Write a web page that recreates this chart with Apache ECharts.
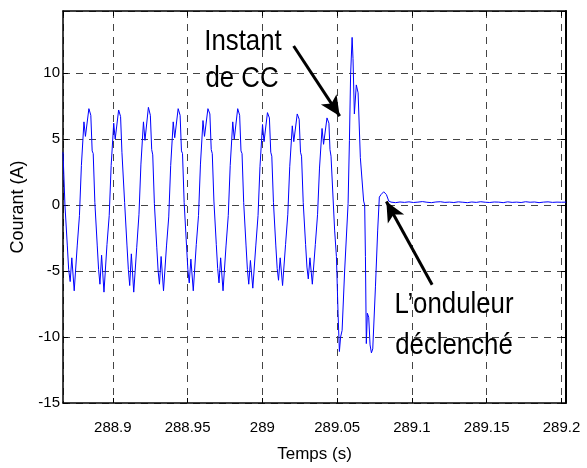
<!DOCTYPE html>
<html>
<head>
<meta charset="utf-8">
<script src="https://cdn.jsdelivr.net/npm/echarts@6/dist/echarts.min.js"></script>
<style>html,body{margin:0;padding:0;background:#fff;}#chart{width:587px;height:468px;}</style>
</head>
<body>
<div id="chart"></div>
<script>
// Time samples (s)
const timeS = [
  288.8667, 288.8680, 288.8696, 288.8705,
  288.8715, 288.8726, 288.8742, 288.8762, 288.8777, 288.8790, 288.8807, 288.8817, 288.8840, 288.8853, 288.8862, 288.8869, 288.8880, 288.8896, 288.8905,
  288.8914, 288.8925, 288.8941, 288.8961, 288.8976, 288.8989, 288.9006, 288.9016, 288.9039, 288.9052, 288.9061, 288.9068, 288.9079, 288.9095, 288.9104,
  288.9113, 288.9124, 288.9140, 288.9160, 288.9175, 288.9188, 288.9205, 288.9215, 288.9238, 288.9251, 288.9260, 288.9267, 288.9278, 288.9294, 288.9303,
  288.9312, 288.9323, 288.9339, 288.9359, 288.9374, 288.9387, 288.9404, 288.9414, 288.9437, 288.9450, 288.9459, 288.9466, 288.9477, 288.9493, 288.9502,
  288.9511, 288.9522, 288.9538, 288.9558, 288.9573, 288.9586, 288.9603, 288.9613, 288.9636, 288.9649, 288.9658, 288.9665, 288.9676, 288.9692, 288.9701,
  288.9710, 288.9721, 288.9737, 288.9757, 288.9772, 288.9785, 288.9802, 288.9812, 288.9835, 288.9848, 288.9857, 288.9864, 288.9875, 288.9891, 288.9900,
  288.9909, 288.9920, 288.9936, 288.9956, 288.9971, 288.9984, 289.0001, 289.0011, 289.0034, 289.0047, 289.0056, 289.0063, 289.0074, 289.0090, 289.0099,
  289.0108, 289.0119, 289.0135, 289.0155, 289.0170, 289.0183, 289.0200, 289.0210, 289.0233, 289.0246, 289.0255, 289.0262, 289.0273, 289.0289, 289.0298,
  289.0307, 289.0318, 289.0334, 289.0354, 289.0369, 289.0382, 289.0399, 289.0409, 289.0432,
  289.0445, 289.0452, 289.0459, 289.0483, 289.0495, 289.0506, 289.0515, 289.0523, 289.0533, 289.0550, 289.0573, 289.0582, 289.0590, 289.0600,
  289.0606, 289.0615, 289.0628, 289.0640, 289.0655, 289.0677, 289.0684, 289.0689, 289.0695, 289.0702, 289.0711, 289.0720, 289.0729, 289.0738,
  289.0756, 289.0771, 289.0782, 289.0794, 289.0811, 289.0829, 289.0845,
  289.086, 289.089, 289.092, 289.095, 289.098, 289.101, 289.104, 289.107, 289.110, 289.113, 289.116, 289.119, 289.122, 289.125,
  289.128, 289.131, 289.134, 289.137, 289.140, 289.143, 289.146, 289.149, 289.152, 289.155, 289.158, 289.161, 289.164, 289.167,
  289.170, 289.173, 289.176, 289.179, 289.182, 289.185, 289.188, 289.191, 289.194, 289.197, 289.200, 289.203
];
// Current (A)
const currentA = [
  4.0, 0.0, -3.1, -4.9,
  -5.8, -4.0, -6.5, -3.1, -0.8, 3.0, 6.3, 5.2, 7.3, 6.8, 4.1, 3.9, 0.2, -3.1, -4.9,
  -6.0, -3.8, -6.6, -3.0, -0.8, 3.0, 6.2, 5.0, 7.2, 6.7, 4.0, 3.9, 0.2, -3.1, -4.9,
  -6.1, -3.7, -6.6, -3.2, -0.7, 3.1, 6.3, 4.9, 7.4, 6.8, 4.2, 3.8, 0.1, -3.2, -5.0,
  -6.0, -3.9, -6.5, -3.1, -0.9, 3.0, 6.3, 5.1, 7.3, 6.8, 4.1, 3.9, 0.2, -3.1, -4.9,
  -5.9, -4.1, -6.5, -3.0, -0.8, 3.1, 6.4, 5.2, 7.3, 6.9, 4.2, 3.9, 0.3, -3.0, -4.8,
  -5.9, -4.0, -6.5, -3.1, -0.8, 3.0, 6.3, 5.0, 7.3, 6.8, 4.1, 3.9, 0.2, -3.1, -4.9,
  -6.0, -4.2, -6.3, -3.1, -0.8, 2.9, 6.1, 4.8, 7.0, 6.6, 4.0, 3.7, 0.2, -3.1, -4.8,
  -5.7, -4.0, -6.1, -3.0, -0.7, 2.9, 6.0, 4.8, 6.9, 6.5, 4.0, 3.7, 0.2, -3.0, -4.7,
  -5.6, -4.0, -6.0, -3.0, -0.7, 2.8, 5.8, 4.6, 6.6,
  6.2, 4.2, 3.7, -1.9, -3.9, -8.2, -11.1, -10.0, -9.5, -5.0, 0.1, 4.9, 9.9, 12.7,
  11.1, 6.9, 9.1, 8.5, 3.6, 0.3, 0.0, -3.9, -10.5, -8.2, -8.5, -10.6, -11.2, -10.9,
  -6.2, -1.9, 0.6, 0.8, 1.0, 0.8, 0.3,
  0.22, 0.18, 0.23, 0.20, 0.24, 0.19, 0.22, 0.26, 0.21, 0.18, 0.23, 0.25, 0.20, 0.22,
  0.19, 0.24, 0.21, 0.18, 0.23, 0.20, 0.25, 0.21, 0.19, 0.23, 0.22, 0.18, 0.24, 0.20,
  0.22, 0.19, 0.25, 0.21, 0.23, 0.18, 0.22, 0.24, 0.20, 0.22, 0.21, 0.22
];
const xRange = [288.8667, 289.203];
const yRange = [-15, 14.7];
const yStep = 5;
const xAxisTitle = 'Temps (s)';
const yAxisTitle = 'Courant (A)';
// annotation arrows: [tail, tip] in data coordinates
const arrowFault = [[289.0209, 12.05], [289.0517, 6.74]];
const arrowTrip = [[289.1135, -6.04], [289.0829, 0.27]];
const noteFault = ['Instant', 'de CC'];
const noteTrip = ['L\u2019onduleur', 'déclenché'];

const seriesData = timeS.map((t, i) => [t, currentA[i]]);
const FONT = '"Liberation Sans", Arial, sans-serif';
const gridDash = { color: '#444', width: 1, type: [7, 6] };

const chart = echarts.init(document.getElementById('chart'), null, { renderer: 'canvas' });

function noteText(txt, x, y) {
  return {
    type: 'text', x: x, y: y, scaleX: 0.86, z: 100,
    style: { text: txt, x: 0, y: 0, fill: '#000', font: '30px ' + FONT, align: 'center', verticalAlign: 'middle' }
  };
}

chart.setOption({
  animation: false,
  backgroundColor: '#fff',
  grid: { left: 63, right: 21, top: 11, bottom: 63, show: false },
  xAxis: [{
    type: 'value', min: xRange[0], max: xRange[1],
    name: xAxisTitle, nameLocation: 'middle', nameGap: 43,
    nameTextStyle: { fontSize: 17, color: '#000', fontFamily: FONT },
    axisLine: { show: true, onZero: false, lineStyle: { color: '#000', width: 1.5 } },
    axisTick: { show: true, inside: true, length: 5, lineStyle: { color: '#000' } },
    axisLabel: { color: '#000', fontSize: 15, fontFamily: FONT, margin: 17, showMinLabel: false, showMaxLabel: false },
    splitLine: { show: true, lineStyle: gridDash }
  }, {
    type: 'value', position: 'top', min: xRange[0], max: xRange[1],
    axisLine: { show: true, onZero: false, lineStyle: { color: '#000', width: 1.5 } },
    axisTick: { show: true, inside: true, length: 5, lineStyle: { color: '#000' } },
    axisLabel: { show: false }, splitLine: { show: false }
  }],
  yAxis: [{
    type: 'value', min: yRange[0], max: yRange[1], interval: yStep,
    name: yAxisTitle, nameLocation: 'middle', nameGap: 27,
    nameTextStyle: { fontSize: 18, color: '#000', fontFamily: FONT },
    axisLine: { show: true, onZero: false, lineStyle: { color: '#000', width: 1.5 } },
    axisTick: { show: true, inside: true, length: 5, lineStyle: { color: '#000' } },
    axisLabel: { color: '#000', fontSize: 15, fontFamily: FONT, margin: 3, showMaxLabel: false },
    splitLine: { show: true, lineStyle: gridDash }
  }, {
    type: 'value', position: 'right', min: yRange[0], max: yRange[1], interval: yStep,
    axisLine: { show: true, onZero: false, lineStyle: { color: '#000', width: 2 } },
    axisTick: { show: true, inside: true, length: 5, lineStyle: { color: '#000' } },
    axisLabel: { show: false }, splitLine: { show: false }
  }],
  series: [{
    type: 'line', data: seriesData, showSymbol: false, smooth: false,
    lineStyle: { color: '#0000ff', width: 1 }, itemStyle: { color: '#0000ff' },
    markLine: {
      silent: true, symbol: ['none', 'arrow'], symbolSize: [14, 20], animation: false,
      label: { show: false },
      lineStyle: { color: '#000', width: 3, type: 'solid' },
      data: [
        [{ coord: arrowFault[0] }, { coord: arrowFault[1] }],
        [{ coord: arrowTrip[0] }, { coord: arrowTrip[1] }]
      ]
    }
  }],
  graphic: [
    noteText(noteFault[0], 243, 42),
    noteText(noteFault[1], 242, 79),
    noteText(noteTrip[0], 454, 305),
    noteText(noteTrip[1], 454, 346)
  ]
});
</script>
</body>
</html>
